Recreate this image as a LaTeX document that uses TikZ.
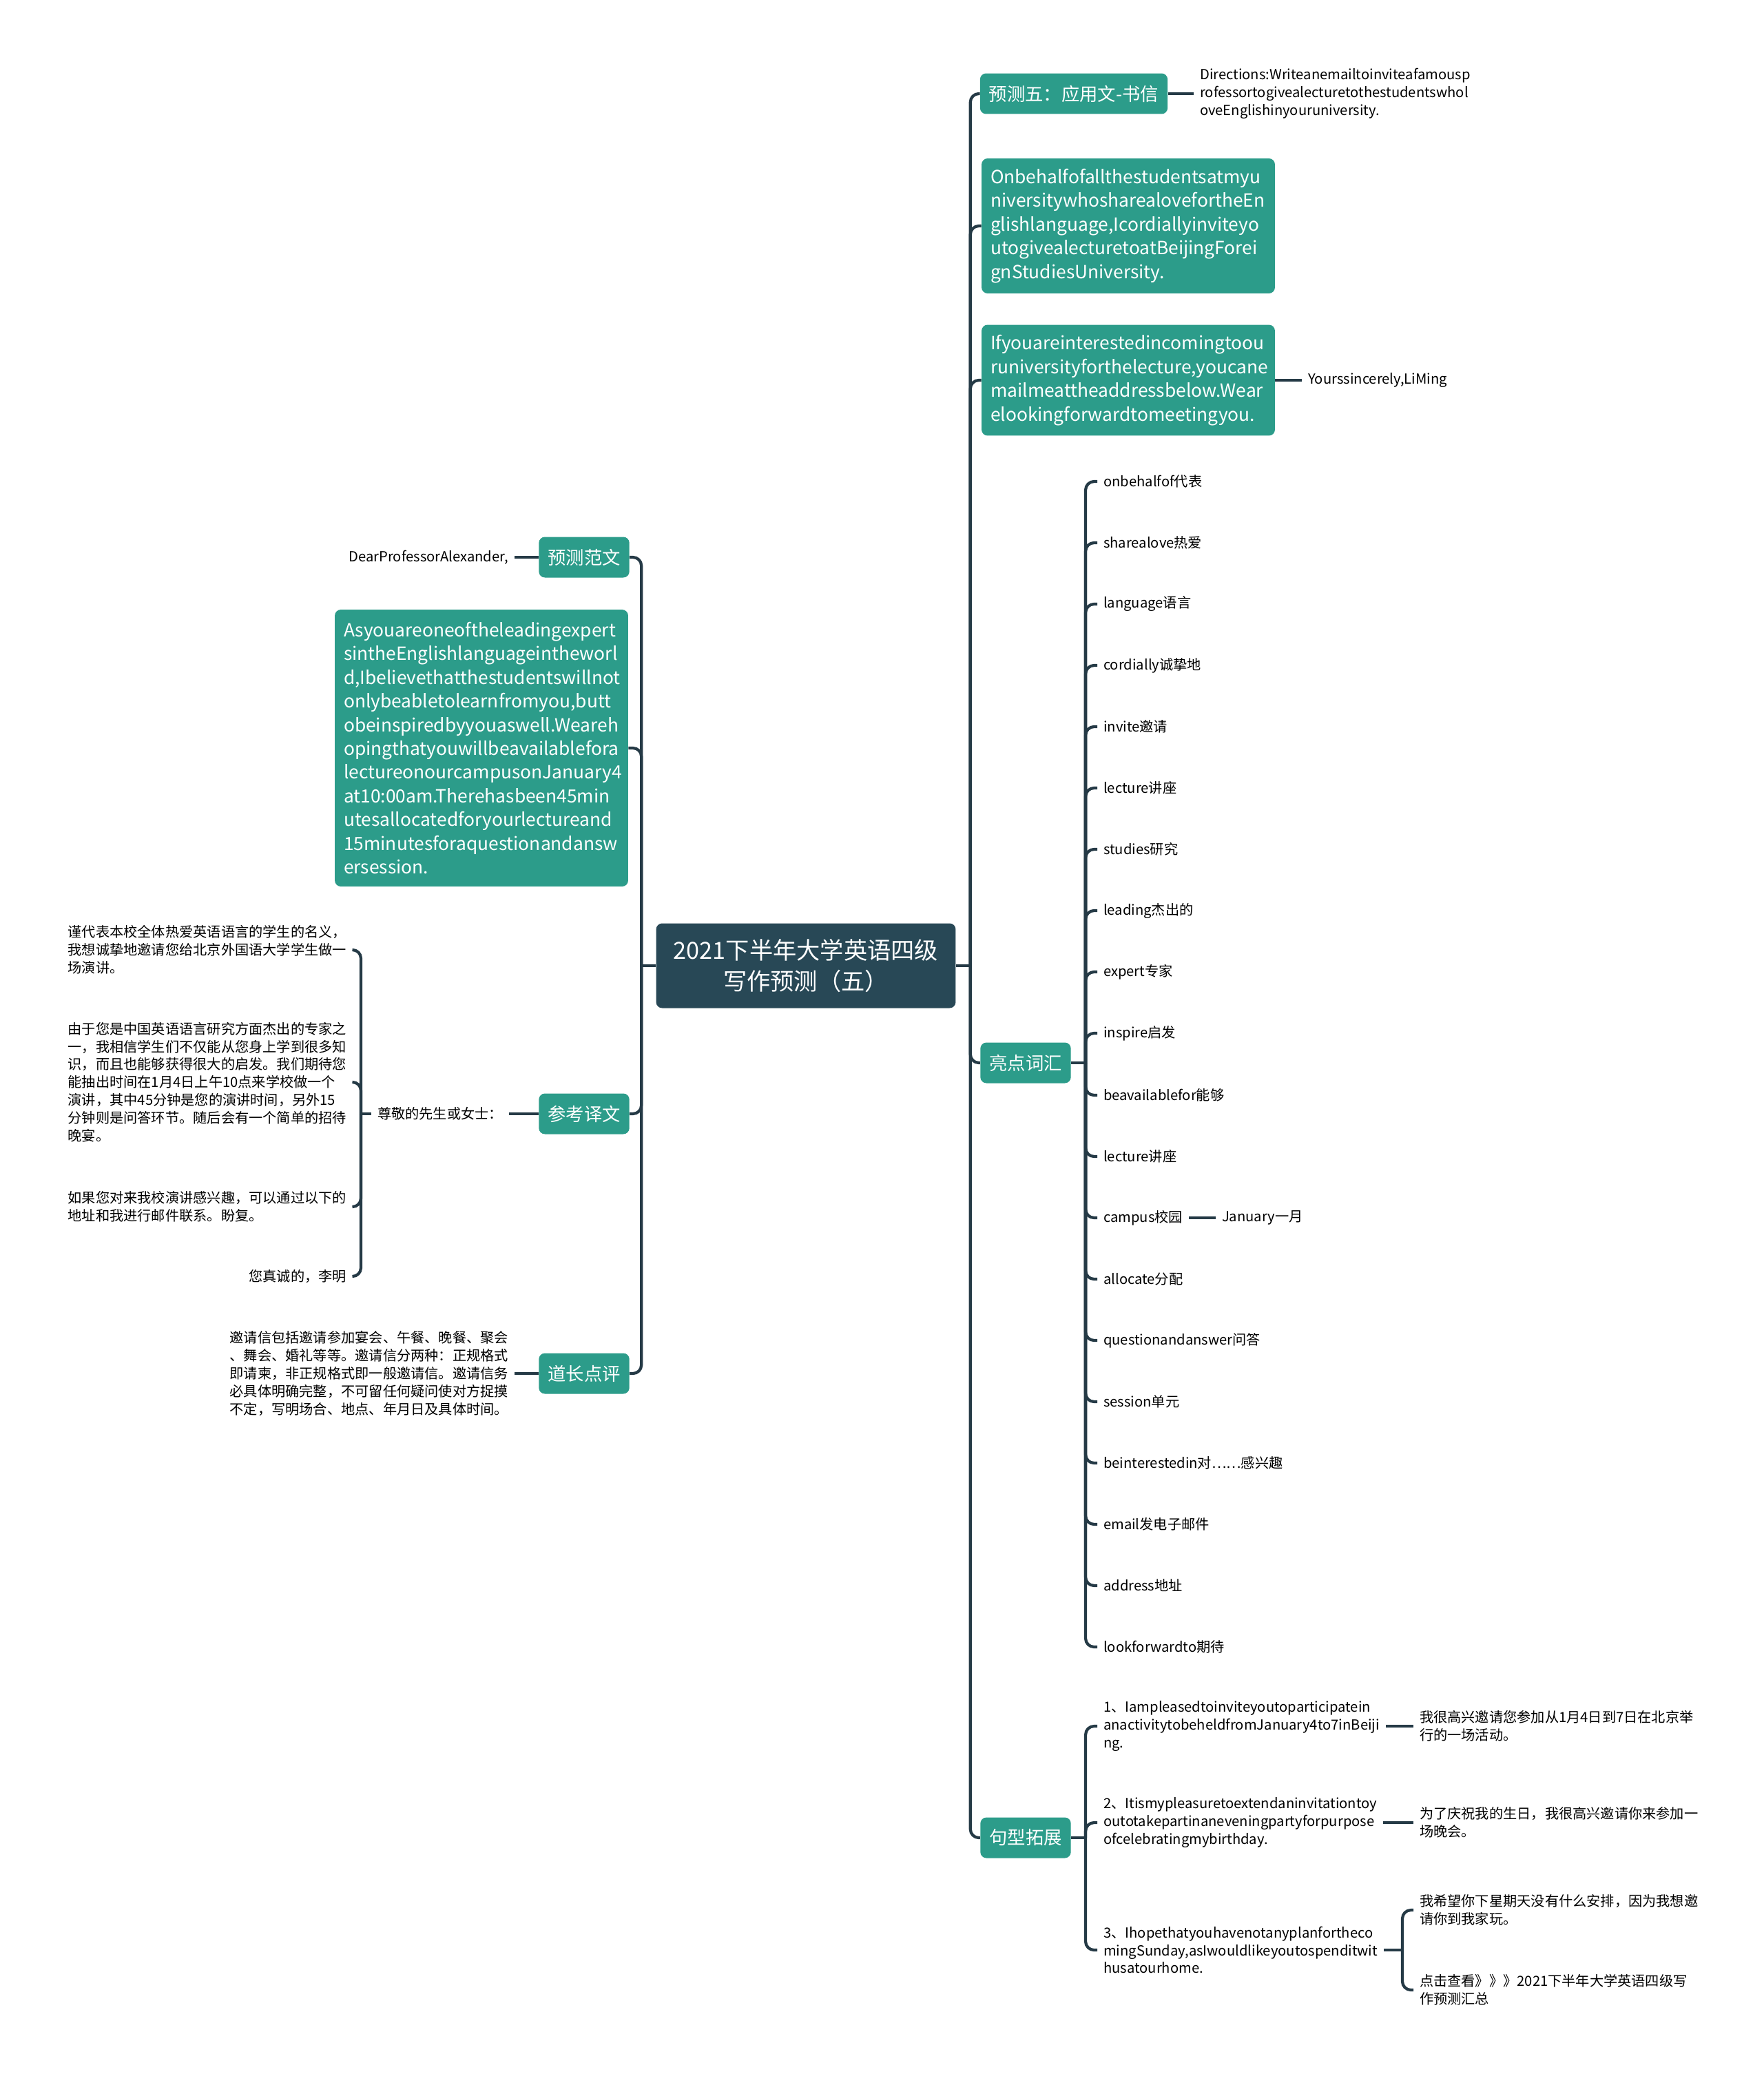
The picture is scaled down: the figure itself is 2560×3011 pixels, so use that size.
\documentclass[tikz,border=0pt]{standalone}
\usepackage{fontspec}
\setmainfont{Noto Sans CJK SC}
\definecolor{topicteal}{RGB}{44,156,138}
\definecolor{rootslate}{RGB}{40,72,86}
\definecolor{linkslate}{RGB}{37,58,70}
\usetikzlibrary{positioning}

\begin{document}
\begin{tikzpicture}[x=0.02cm, y=-0.02cm,
  rootbox/.style={fill=rootslate, rounded corners=5pt, text=white, align=center, minimum width=8.7cm, minimum height=2.46cm, font=\fontsize{19.5pt}{26pt}\selectfont},
  topic/.style={fill=topicteal, rounded corners=5pt, text=white, align=left, inner xsep=7.4pt, font=\fontsize{15pt}{19.6pt}\selectfont},
  tag/.style={topic, align=center, minimum width=2.57cm, minimum height=1.18cm},
  leaf/.style={inner xsep=5pt, inner ysep=2pt, align=left, font=\fontsize{11.5pt}{14.7pt}\selectfont},
  link/.style={draw=linkslate, line width=2.4pt, rounded corners=7pt}
]
  \useasboundingbox (0,0) rectangle (2560,3011);

  \node[rootbox] (root) at (1170,1402) {2021下半年大学英语四级\\写作预测（五）};

  \node[tag, minimum width=5.38cm] (letter) at (1559,136) {预测五：应用文-书信};
  \node[leaf, anchor=west] (dirs) at (1733,136) {Directions:Writeanemailtoinviteafamousp\\rofessortogivealecturetothestudentswhol\\oveEnglishinyouruniversity.};
  \node[topic, text width=8cm, minimum height=3.92cm] (para1) at (1638,328) {Onbehalfofallthestudentsatmyu\\niversitywhosharealovefortheEn\\glishlanguage,Icordiallyinviteyo\\utogivealecturetoatBeijingForei\\gnStudiesUniversity.};
  \node[topic, text width=8cm, minimum height=3.22cm] (para2) at (1638,552) {Ifyouareinterestedincomingtoou\\runiversityforthelecture,youcane\\mailmeattheaddressbelow.Wear\\elookingforwardtomeetingyou.};
  \node[leaf, anchor=west] (sign) at (1890,552) {Yourssincerely,LiMing};

  \node[tag] (vocab) at (1489,1543) {亮点词汇};
  \node[leaf, anchor=west] (w1) at (1593,699) {onbehalfof代表};
  \node[leaf, anchor=west] (w2) at (1593,788) {sharealove热爱};
  \node[leaf, anchor=west] (w3) at (1593,877) {language语言};
  \node[leaf, anchor=west] (w4) at (1593,966) {cordially诚挚地};
  \node[leaf, anchor=west] (w5) at (1593,1055) {invite邀请};
  \node[leaf, anchor=west] (w6) at (1593,1144) {lecture讲座};
  \node[leaf, anchor=west] (w7) at (1593,1233) {studies研究};
  \node[leaf, anchor=west] (w8) at (1593,1322) {leading杰出的};
  \node[leaf, anchor=west] (w9) at (1593,1411) {expert专家};
  \node[leaf, anchor=west] (w10) at (1593,1500) {inspire启发};
  \node[leaf, anchor=west] (w11) at (1593,1590) {beavailablefor能够};
  \node[leaf, anchor=west] (w12) at (1593,1679) {lecture讲座};
  \node[leaf, anchor=west] (w13) at (1593,1768) {campus校园};
  \node[leaf, anchor=west] (w14) at (1593,1857) {allocate分配};
  \node[leaf, anchor=west] (w15) at (1593,1946) {questionandanswer问答};
  \node[leaf, anchor=west] (w16) at (1593,2035) {session单元};
  \node[leaf, anchor=west] (w17) at (1593,2124) {beinterestedin对……感兴趣};
  \node[leaf, anchor=west] (w18) at (1593,2213) {email发电子邮件};
  \node[leaf, anchor=west] (w19) at (1593,2302) {address地址};
  \node[leaf, anchor=west] (w20) at (1593,2391) {lookforwardto期待};
  \node[leaf, anchor=west] (jan) at (1765,1768) {January一月};

  \node[tag] (sent) at (1489,2668) {句型拓展};
  \node[leaf, anchor=west] (s1) at (1593,2506) {1、Iampleasedtoinviteyoutoparticipatein\\anactivitytobeheldfromJanuary4to7inBeiji\\ng.};
  \node[leaf, anchor=west] (s2) at (1593,2646) {2、Itismypleasuretoextendaninvitationtoy\\outotakepartinaneveningpartyforpurpose\\ofcelebratingmybirthday.};
  \node[leaf, anchor=west] (s3) at (1593,2831) {3、Ihopethatyouhavenotanyplanfortheco\\mingSunday,asIwouldlikeyoutospenditwit\\husatourhome.};
  \node[leaf, anchor=west] (s1c) at (2052,2506) {我很高兴邀请您参加从1月4日到7日在北京举\\行的一场活动。};
  \node[leaf, anchor=west] (s2c) at (2052,2646) {为了庆祝我的生日，我很高兴邀请你来参加一\\场晚会。};
  \node[leaf, anchor=west] (s3a) at (2052,2773) {我希望你下星期天没有什么安排，因为我想邀\\请你到我家玩。};
  \node[leaf, anchor=west] (s3b) at (2052,2889) {点击查看》》》2021下半年大学英语四级写\\作预测汇总};
  \coordinate (s3t) at (2036,2831);

  \node[tag] (sample) at (848,809) {预测范文};
  \node[leaf, anchor=east] (dear) at (747,809) {DearProfessorAlexander,};
  \node[topic, text width=8cm, minimum height=8.04cm] (essay) at (699,1086) {Asyouareoneoftheleadingexpert\\sintheEnglishlanguageintheworl\\d,Ibelievethatthestudentswillnot\\onlybeabletolearnfromyou,butt\\obeinspiredbyyouaswell.Weareh\\opingthatyouwillbeavailablefora\\lectureonourcampusonJanuary4\\at10:00am.Therehasbeen45min\\utesallocatedforyourlectureand\\15minutesforaquestionandansw\\ersession.};

  \node[tag] (transl) at (848,1617) {参考译文};
  \node[leaf, anchor=east] (sir) at (739,1617) {尊敬的先生或女士：};
  \coordinate (sirt) at (524,1617);
  \node[leaf, anchor=east] (t1) at (512,1379) {谨代表本校全体热爱英语语言的学生的名义，\\我想诚挚地邀请您给北京外国语大学学生做一\\场演讲。};
  \node[leaf, anchor=east] (t2) at (512,1571) {由于您是中国英语语言研究方面杰出的专家之\\一，我相信学生们不仅能从您身上学到很多知\\识，而且也能够获得很大的启发。我们期待您\\能抽出时间在1月4日上午10点来学校做一个\\演讲，其中45分钟是您的演讲时间，另外15\\分钟则是问答环节。随后会有一个简单的招待\\晚宴。};
  \node[leaf, anchor=east] (t3) at (512,1752) {如果您对来我校演讲感兴趣，可以通过以下的\\地址和我进行邮件联系。盼复。};
  \node[leaf, anchor=east] (t4) at (512,1853) {您真诚的，李明};

  \node[tag] (comment) at (848,1994) {道长点评};
  \node[leaf, anchor=east] (remark) at (747,1994) {邀请信包括邀请参加宴会、午餐、晚餐、聚会\\、舞会、婚礼等等。邀请信分两种：正规格式\\即请柬，非正规格式即一般邀请信。邀请信务\\必具体明确完整，不可留任何疑问使对方捉摸\\不定，写明场合、地点、年月日及具体时间。};

  \draw[link] (root.east) -- ++(21,0) coordinate (rt);
  \draw[link] (rt) |- (letter.west);
  \draw[link] (rt) |- (para1.west);
  \draw[link] (rt) |- (para2.west);
  \draw[link] (rt) |- (vocab.west);
  \draw[link] (rt) |- (sent.west);
  \draw[link] (letter.east) -- (dirs.west);
  \draw[link] (para2.east) -- (sign.west);
  \draw[link] (vocab.east) -- ++(21,0) coordinate (vt);
  \foreach \i in {1,...,20} \draw[link] (vt) |- (w\i.west);
  \draw[link] (w13.east) -- (jan.west);
  \draw[link] (sent.east) -- ++(21,0) coordinate (st);
  \draw[link] (st) |- (s1.west);
  \draw[link] (st) |- (s2.west);
  \draw[link] (st) |- (s3.west);
  \draw[link] (s1.east) -- (s1c.west);
  \draw[link] (s2.east) -- (s2c.west);
  \draw[link] (s3.east) -- (s3t);
  \draw[link] (s3t) |- (s3a.west);
  \draw[link] (s3t) |- (s3b.west);

  \draw[link] (root.west) -- ++(-21,0) coordinate (lt);
  \draw[link] (lt) |- (sample.east);
  \draw[link] (lt) |- (essay.east);
  \draw[link] (lt) |- (transl.east);
  \draw[link] (lt) |- (comment.east);
  \draw[link] (sample.west) -- (dear.east);
  \draw[link] (transl.west) -- (sir.east);
  \draw[link] (sir.west) -- (sirt);
  \draw[link] (sirt) |- (t1.east);
  \draw[link] (sirt) |- (t2.east);
  \draw[link] (sirt) |- (t3.east);
  \draw[link] (sirt) |- (t4.east);
  \draw[link] (comment.west) -- (remark.east);
\end{tikzpicture}
\end{document}
